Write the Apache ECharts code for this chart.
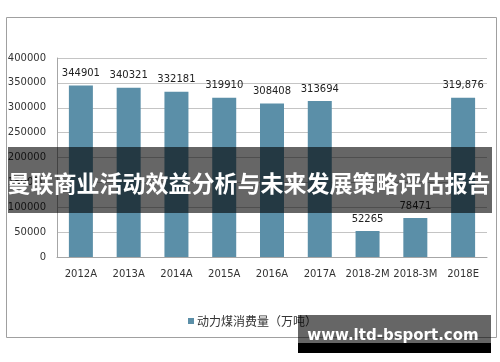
<!DOCTYPE html>
<html><head><meta charset="utf-8">
<script src="https://cdn.jsdelivr.net/npm/echarts@6/dist/echarts.min.js"></script>
<style>html,body{margin:0;padding:0;background:#fff}#c{width:500px;height:362px}</style>
</head><body><div id="c"></div>
<script>
var categories = ['2012A','2013A','2014A','2015A','2016A','2017A','2018-2M','2018-3M','2018E'];
var values = [344901, 340321, 332181, 319910, 308408, 313694, 52265, 78471, 319876];
var valueLabels = ['344901','340321','332181','319910','308408','313694','52265','78471','319,876'];
var seriesName = '动力煤消费量（万吨）';
var bannerTitle = '曼联商业活动效益分析与未来发展策略评估报告';
var watermark = 'www.ltd-bsport.com';

var chart = echarts.init(document.getElementById('c'), null, {renderer:'canvas'});
chart.setOption({
  animation: false,
  backgroundColor: '#fff',
  textStyle: {fontFamily: 'DejaVu Sans'},
  grid: {left: 57, right: 13, top: 58, bottom: 105, containLabel: false},
  legend: {
    data: [seriesName], left: 183, top: 310, icon: 'rect', itemWidth: 6, itemHeight: 6, itemGap: 4,
    textStyle: {fontSize: 12, color: '#333', fontFamily: 'Noto Sans CJK SC', padding: [0,0,0,-2]}
  },
  xAxis: {
    type: 'category', data: categories,
    axisLine: {show: true, lineStyle: {color: '#a6a6a6'}},
    axisTick: {show: false},
    axisLabel: {interval: 0, margin: 12, fontSize: 10, color: '#333', fontFamily: 'DejaVu Sans'}
  },
  yAxis: {
    type: 'value', min: 0, max: 400000, interval: 50000,
    axisLine: {show: true, lineStyle: {color: '#a6a6a6'}},
    axisTick: {show: false},
    axisLabel: {margin: 11, fontSize: 10, color: '#333', fontFamily: 'DejaVu Sans',
      formatter: function(v){ return String(v); }},
    splitLine: {lineStyle: {color: '#c4c4c4', width: 1}}
  },
  series: [{
    name: seriesName, type: 'bar', data: values, barWidth: 24,
    itemStyle: {color: '#5b8fa8'},
    label: {show: true, position: 'top', distance: 7, fontSize: 10, color: '#222', fontFamily: 'DejaVu Sans',
      formatter: function(p){ return valueLabels[p.dataIndex]; }}
  }],
  graphic: [
    {type: 'rect', z: 100, shape: {x: 6.5, y: 17.5, width: 490, height: 320}, style: {fill: 'none', stroke: '#a0a0a0', lineWidth: 1}},
    {type: 'rect', z: 101, shape: {x: 8, y: 147, width: 484, height: 66}, style: {fill: 'rgba(0,0,0,0.6)'}},
    {type: 'text', z: 102, x: 249, y: 183, style: {text: bannerTitle, fill: '#fff', fontSize: 23, fontWeight: 'bold', fontFamily: 'Noto Sans CJK SC', align: 'center', verticalAlign: 'middle'}},
    {type: 'rect', z: 101, shape: {x: 298, y: 315, width: 193, height: 28}, style: {fill: 'rgba(0,0,0,0.6)'}},
    {type: 'rect', z: 101, shape: {x: 298, y: 343, width: 193, height: 10}, style: {fill: '#000'}},
    {type: 'text', z: 102, x: 393, y: 336, style: {text: watermark, fill: '#fff', fontSize: 15, fontWeight: 'bold', fontFamily: 'DejaVu Sans', align: 'center', verticalAlign: 'middle'}}
  ]
});
</script></body></html>
